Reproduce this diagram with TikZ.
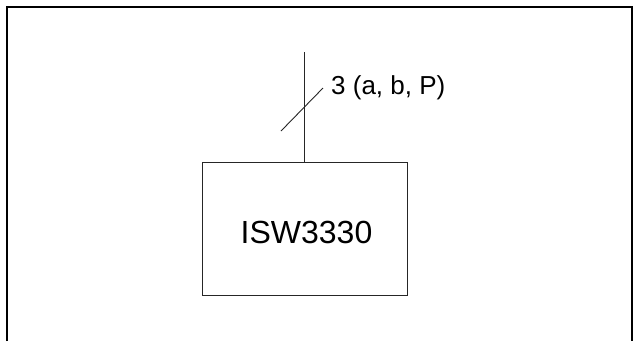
\documentclass[tikz,border=0pt]{standalone}
\usepackage{fontspec}
\setmainfont{Liberation Sans}
\begin{document}
\begin{tikzpicture}[x=1pt,y=-1pt,
  thinline/.style={line width=0.9pt, draw=black!85},
  framebox/.style={line width=1.6pt, draw=black}]
\useasboundingbox (0,0) rectangle (640,341);
\fill[white] (0,0) rectangle (640,341);
% frame (open at bottom)
\coordinate (fbl) at (7,341);
\coordinate (ftl) at (7,7);
\coordinate (ftr) at (632,7);
\coordinate (fbr) at (632,341);
\draw[framebox] (fbl) -- (ftl) -- (ftr) -- (fbr);
% box
\node[draw, thinline, minimum width=205pt, minimum height=133pt, inner sep=0pt,
  anchor=north west] (isw) at (201.5,162) {};
\node[font=\fontsize{32}{32}\selectfont, anchor=base] (iswlabel) at (306.5,243) {ISW3330};
% bus line
\coordinate (top) at (304,52);
\draw[thinline] (top) -- (isw.north -| top);
% slash
\coordinate (s1) at (281,131);
\coordinate (s2) at (323,88);
\draw[thinline] (s1) -- (s2);
\node[anchor=base west, inner sep=0pt, font=\fontsize{26}{26}\selectfont] (lbl) at (331,94) {3 (a, b, P)};
\end{tikzpicture}
\end{document}
